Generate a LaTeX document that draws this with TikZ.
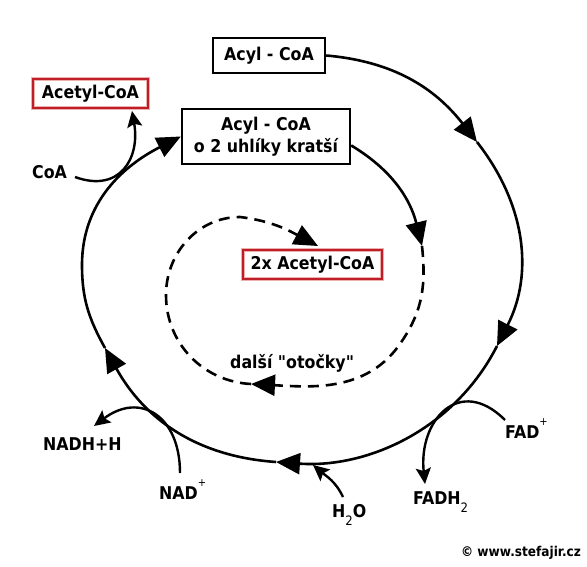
\documentclass[tikz,border=0pt]{standalone}
\usepackage{fontspec}
\setmainfont{DejaVu Sans Condensed}[Ligatures=TeXOff]
\usetikzlibrary{arrows.meta}
\definecolor{boxred}{RGB}{190,30,40}
\definecolor{glow}{RGB}{238,175,175}
\newcommand\mysup[1]{\raisebox{13pt}{\fontsize{11}{11}\selectfont\mdseries #1}}
\newcommand\mysub[1]{\raisebox{-8pt}{\fontsize{13}{13}\selectfont\mdseries #1}}
\begin{document}
\begin{tikzpicture}[x=1pt,y=1pt,
  lbl/.style={font=\fontsize{17.6}{22}\selectfont\bfseries, inner sep=0pt},
  blackbox/.style={lbl, draw=black, line width=2.4pt, align=center},
  redbox/.style={lbl, draw=boxred, line width=2.4pt, preaction={draw=glow, line width=4.6pt}},
  cyc/.style={line width=2.6pt},
  bigtip/.style={-{Triangle[length=24pt,width=21pt]}},
  side/.style={line width=2.4pt, -{Stealth[length=16pt,width=15pt,inset=3pt]}},
  dashloop/.style={dash pattern=on 11pt off 7pt}
]
\useasboundingbox (0,0) rectangle (587,-567);

% boxes
\node[blackbox, minimum width=112pt, minimum height=35pt] (acyl) at (269,-55.5) {Acyl - CoA};
\node[blackbox, minimum width=168pt, minimum height=55pt] (acylshort) at (266,-136.5) {Acyl - CoA\\o 2 uhlíky kratší};
\node[redbox, minimum width=115pt, minimum height=29pt] (acetyl) at (90.5,-93.5) {Acetyl-CoA};
\node[redbox, minimum width=139pt, minimum height=29pt] (acetyltwo) at (312.5,-264.5) {2x Acetyl-CoA};

% labels
\node[lbl, anchor=base west] (coa) at (32,-178.4) {CoA};
\node[lbl, anchor=base west] (nadh) at (43,-450.4) {NADH+H};
\node[lbl, anchor=base west] (nad) at (159,-499.4) {NAD\mysup{+}};
\node[lbl, anchor=base west] (water) at (332,-517.5) {H\mysub{2}O};
\node[lbl, anchor=base west] (fadh) at (413,-504) {FADH\mysub{2}};
\node[lbl, anchor=base west] (fad) at (505,-438.5) {FAD\mysup{+}};
\node[lbl, anchor=base west] (dalsi) at (230,-368) {další "otočky"};
\node[font=\fontsize{13.5}{16}\selectfont\bfseries, inner sep=0pt] (copy) at (521,-553) {© www.stefajir.cz};

% main cycle
\coordinate (p1) at (477,-142);
\coordinate (p2) at (497,-346);
\coordinate (p3) at (276,-462);
\coordinate (p4) at (105,-348);
\coordinate (pl) at (82,-265);
\draw[cyc, bigtip] (acyl.east) to[out=-5,in=128] (p1);
\draw[cyc, bigtip] (p1) to[out=-52,in=63] (p2);
\draw[cyc, bigtip] (p2) to[out=-117,in=-4,looseness=0.95] (p3);
\draw[cyc, bigtip] (p3) to[out=176,in=-61] (p4);
\draw[cyc, bigtip] (p4) to[out=119,in=-90] (pl) to[out=90,in=207] (acylshort.west);

% inner arc and dashed loop
\coordinate (d0) at (422,-246);
\coordinate (d1) at (402,-341);
\coordinate (da) at (251,-384);
\coordinate (dl) at (166,-295);
\coordinate (dt) at (240,-217);
\coordinate (db) at (318,-246);
\draw[cyc, bigtip] (acylshort.-6) to[out=-31,in=104] (d0);
\draw[cyc, dashloop, bigtip] (d0) to[out=-84,in=56] (d1) to[out=-123,in=-3] (da);
\draw[cyc, dashloop, bigtip] (da) to[out=177,in=-90] (dl) to[out=90,in=180] (dt) to[out=-7,in=152] (db);

% side reactions
\coordinate (coastart) at (75,-177);
\coordinate (coaend) at (132,-111);
\draw[side] (coastart) to[out=-20,in=-80,looseness=1.4] (coaend);
\coordinate (nadstart) at (180,-473);
\coordinate (nadhend) at (94,-426);
\draw[side] (nadstart) to[out=90,in=37,looseness=1.5] (nadhend);
\coordinate (fadstart) at (505,-420);
\coordinate (fadhend) at (425,-484);
\draw[side] (fadstart) to[out=135,in=96,looseness=1.6] (fadhend);
\coordinate (waterstart) at (343,-497);
\coordinate (waterend) at (313,-465);
\draw[side] (waterstart) to[out=115,in=-40] (waterend);
\end{tikzpicture}
\end{document}
